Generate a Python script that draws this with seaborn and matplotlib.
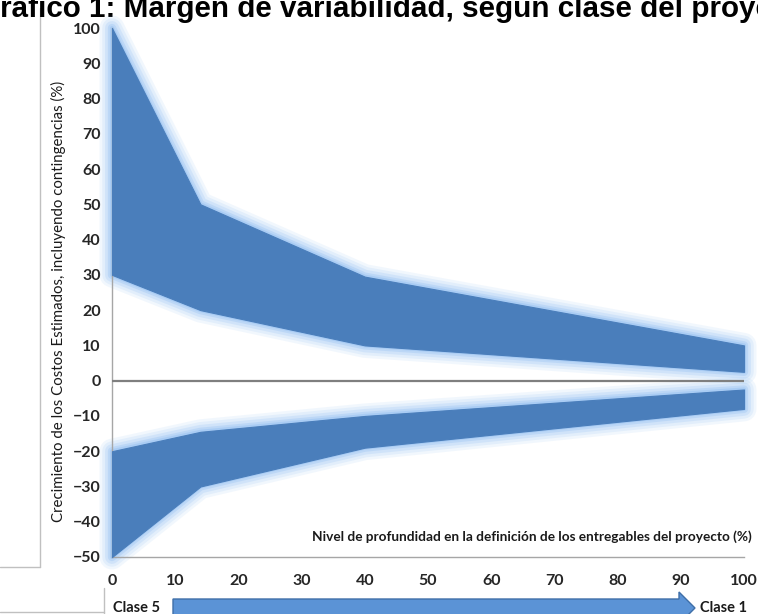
import numpy as np
import pandas as pd
import matplotlib
matplotlib.use("Agg")
import matplotlib.pyplot as plt
from matplotlib.patches import Polygon
import seaborn as sns

# Datos
nivelDefinicion = [0, 14, 40, 100]
sobreCostoMax = [100, 50, 29.5, 10]
sobreCostoMin = [30, 20, 10, 2.5]
bajoCostoMax = [-20, -14.5, -10, -2.5]
bajoCostoMin = [-50, -30, -19, -8]
ticksX = list(range(0, 101, 10))
ticksY = list(range(-50, 101, 10))

tituloGrafico = "Gráfico 1: Margen de variabilidad, según clase del proyecto"
etiquetaY = "Crecimiento de los Costos Estimados, incluyendo contingencias (%)"
etiquetaX = "Nivel de profundidad en la definición de los entregables del proyecto (%)"

sns.set_style("white")
plt.rcParams['font.family'] = ['Lato', 'DejaVu Sans']

corRelleno = '#4a7ebb'
corBrillo = '#94c0f2'

dados = pd.DataFrame({
    'nivel': nivelDefinicion,
    'sobreMax': sobreCostoMax,
    'sobreMin': sobreCostoMin,
    'bajoMax': bajoCostoMax,
    'bajoMin': bajoCostoMin,
})

fig = plt.figure(figsize=(7.58, 6.14), dpi=100)
ax = fig.add_axes([112 / 758, 1 - 557 / 614, 632 / 758, 529 / 614])


def desenharBanda(colInf, colSup):
    # brilho suave em volta da banda
    for lw, alpha in [(18, 0.12), (14, 0.16), (10, 0.22), (6, 0.32), (3, 0.45)]:
        ax.fill_between(dados['nivel'], dados[colInf], dados[colSup],
                        facecolor='none', edgecolor=corBrillo, linewidth=lw,
                        alpha=alpha, joinstyle='round', clip_on=False, zorder=2)
    ax.fill_between(dados['nivel'], dados[colInf], dados[colSup],
                    facecolor=corRelleno, edgecolor=corRelleno, linewidth=0.8,
                    clip_on=False, zorder=3)


desenharBanda('sobreMin', 'sobreMax')
desenharBanda('bajoMin', 'bajoMax')

sns.lineplot(x=[0, 100], y=[0, 0], ax=ax, color='#7f7f7f', linewidth=1.6, zorder=4)

ax.set_xlim(0, 100)
ax.set_ylim(-50, 100)
ax.set_xticks(ticksX)
ax.set_yticks(ticksY)
ax.tick_params(axis='x', direction='in', length=5, width=1, color='#a6a6a6',
               pad=12, labelsize=11.5, labelcolor='#262626')
ax.tick_params(axis='y', direction='out', length=5, width=1, color='#a6a6a6',
               pad=3, labelsize=11.5, labelcolor='#262626')
for lbl in ax.get_xticklabels() + ax.get_yticklabels():
    lbl.set_fontweight('bold')

sns.despine(ax=ax)
for lado in ['left', 'bottom']:
    ax.spines[lado].set_color('#a6a6a6')
    ax.spines[lado].set_linewidth(1)

ax.set_ylabel(etiquetaY, fontsize=10.8, color='#1a1a1a')
ax.yaxis.set_label_coords(-0.072, 0.484)
ax.text(101.3, -45.3, etiquetaX, ha='right', va='baseline',
        fontsize=9.8, fontweight='bold', color='#1a1a1a')

# camada de sobreposição em pixels para título, seta e molduras
ov = fig.add_axes([0, 0, 1, 1], zorder=-1)
ov.set_xlim(0, 758)
ov.set_ylim(614, 0)
ov.axis('off')

ov.text(-23, 17, tituloGrafico, ha='left', va='baseline', fontsize=21.3,
        fontweight='bold', family='Liberation Sans', color='black')

cinzaMoldura = '#c0c0c0'
ov.plot([40, 40], [8, 567], color=cinzaMoldura, lw=1)
ov.plot([0, 40], [567, 567], color=cinzaMoldura, lw=1)
ov.plot([104, 104], [588, 614], color=cinzaMoldura, lw=1)
ov.plot([0, 104], [612, 612], color=cinzaMoldura, lw=1)

seta = Polygon([[173, 599], [679, 599], [679, 592], [695, 608], [679, 624],
                [679, 617], [173, 617]], closed=True,
               facecolor='#5b93d6', edgecolor='#3f6fa8', linewidth=1)
ov.add_patch(seta)
ov.text(113, 608, "Clase 5", ha='left', va='center', fontsize=10.5,
        fontweight='bold', color='#1a1a1a')
ov.text(700, 608, "Clase 1", ha='left', va='center', fontsize=10.5,
        fontweight='bold', color='#1a1a1a')

fig.savefig('out.png', dpi=100)
